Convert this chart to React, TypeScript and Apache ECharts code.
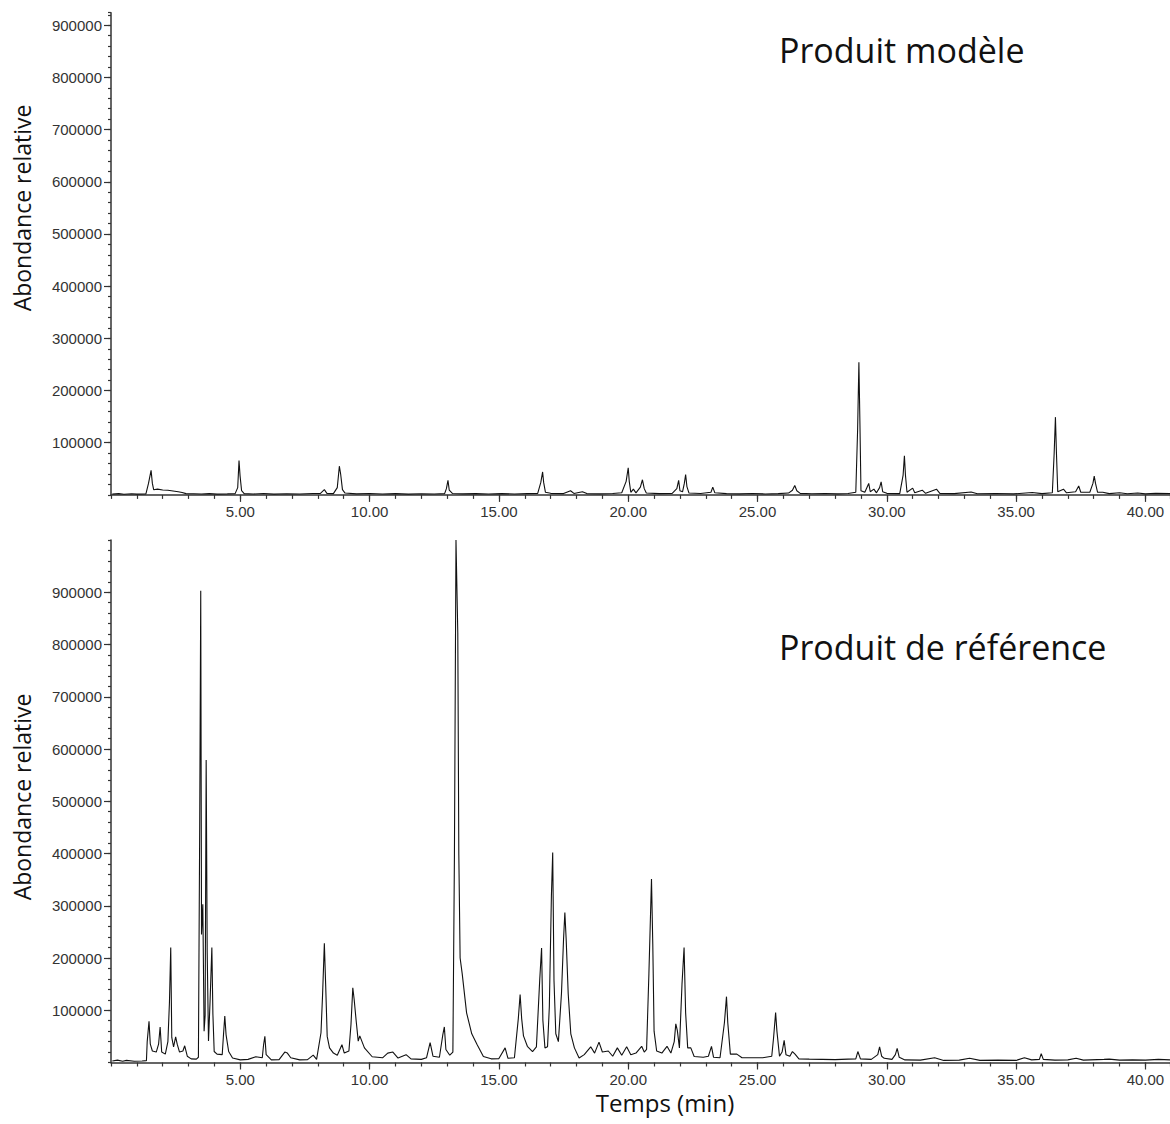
import React, { useEffect, useRef } from "react";
import * as echarts from "echarts";

// Time ticks (min) and abundance ticks
const timeMajorStep = 5;
const timeMinorStep = 1;
const timeMax = 40.95;
const abundanceMajorStep = 100000;
const abundanceMinorStep = 20000;
const topAbundanceMax = 924000;
const bottomAbundanceMax = 1000000;

const panelTitles = ["Produit modèle", "Produit de référence"];
const yAxisTitle = "Abondance relative";
const xAxisTitle = "Temps (min)";

// Chromatogram of the model product: [time (min), abundance]
const modelTrace: [number, number][] = [
  [0.05, 1500], [0.3, 2500], [0.5, 1200], [0.8, 2200], [1.0, 1500], [1.35, 1800],
  [1.45, 22000], [1.55, 47000], [1.6, 22000], [1.65, 10000], [1.8, 11000], [2.0, 9500],
  [2.2, 9000], [2.4, 7500], [2.6, 6000], [2.75, 4500], [2.9, 2500], [3.2, 2200],
  [3.5, 1800], [3.8, 2500], [4.1, 1500], [4.5, 2000], [4.8, 2500],
  [4.9, 14000], [4.95, 66000], [4.99, 37000], [5.05, 8000], [5.15, 2500], [5.5, 1800],
  [5.9, 2600], [6.3, 1500], [6.8, 2200], [7.3, 1800], [7.8, 2600], [8.1, 3000],
  [8.25, 10000], [8.35, 3000], [8.6, 2500], [8.75, 14000], [8.83, 55000], [8.88, 40000],
  [8.95, 10000], [9.05, 3500], [9.5, 2000], [10.0, 2600], [10.5, 1800], [11.0, 2400],
  [11.5, 1500], [12.0, 2200], [12.5, 1800], [12.9, 2500], [12.97, 12000], [13.03, 28000],
  [13.08, 9000], [13.2, 2800], [13.6, 2000], [14.1, 2500], [14.6, 1600], [15.1, 2400],
  [15.6, 1800], [16.1, 2500], [16.5, 3000], [16.62, 24000], [16.69, 44000], [16.73, 24000],
  [16.8, 5000], [17.0, 3000], [17.5, 2500], [17.77, 8000], [17.9, 2800], [18.23, 6000],
  [18.4, 2500], [18.9, 2000], [19.4, 2600], [19.75, 4000], [19.92, 26000], [20.0, 52000],
  [20.04, 26000], [20.1, 5000], [20.2, 11000], [20.3, 4000], [20.47, 15000], [20.55, 29000],
  [20.62, 12000], [20.7, 3500], [21.2, 2500], [21.7, 3000], [21.88, 12000], [21.95, 28000],
  [22.0, 8000], [22.1, 6000], [22.17, 22000], [22.22, 39000], [22.27, 16000], [22.35, 3500],
  [22.8, 2800], [23.2, 5000], [23.27, 15000], [23.35, 4000], [23.8, 2500], [24.3, 2000],
  [24.8, 2600], [25.3, 1800], [25.8, 2500], [26.2, 3500], [26.35, 9000], [26.44, 18000],
  [26.52, 8000], [26.65, 3000], [27.1, 2200], [27.6, 2800], [28.1, 2000], [28.5, 2800],
  [28.8, 5000], [28.87, 124000], [28.92, 254000], [28.96, 137000], [29.0, 8000],
  [29.15, 5000], [29.3, 22000], [29.36, 6000], [29.5, 11000], [29.6, 4000], [29.72, 14000],
  [29.78, 25000], [29.84, 6000], [30.0, 3000], [30.5, 2500], [30.63, 38000], [30.68, 75000],
  [30.72, 38000], [30.78, 5000], [31.0, 13000], [31.08, 4000], [31.37, 9000], [31.5, 3000],
  [31.92, 11000], [32.05, 3000], [32.6, 2500], [33.26, 5500], [33.5, 2200], [34.2, 2800],
  [34.9, 2000], [35.62, 4500], [36.0, 2500], [36.4, 4000], [36.47, 79000], [36.52, 149000],
  [36.56, 79000], [36.61, 6000], [36.83, 11000], [36.95, 4000], [37.3, 6000], [37.42, 17000],
  [37.5, 5000], [37.85, 5000], [37.97, 22000], [38.02, 36000], [38.07, 22000], [38.15, 5000],
  [38.35, 5000], [38.6, 2500], [39.0, 4000], [39.3, 2200], [39.7, 3500], [40.0, 2000],
  [40.4, 3000], [40.95, 2500],
];

// Chromatogram of the reference product: [time (min), abundance]
const referenceTrace: [number, number][] = [
  [0.05, 3000], [0.25, 4500], [0.45, 2500], [0.6, 4000], [0.9, 2500], [1.2, 3000],
  [1.37, 3500], [1.4, 40000], [1.47, 79000], [1.52, 35000], [1.6, 22000], [1.75, 20000],
  [1.84, 35000], [1.9, 68000], [1.96, 20000], [2.1, 16000], [2.2, 40000], [2.26, 115000],
  [2.31, 220000], [2.35, 48000], [2.42, 30000], [2.5, 49000], [2.56, 35000], [2.65, 20000],
  [2.78, 22000], [2.85, 32000], [2.95, 12000], [3.1, 7000], [3.3, 6500], [3.38, 10000],
  [3.43, 453000], [3.47, 903000], [3.5, 245000], [3.55, 303000], [3.6, 60000], [3.64, 90000],
  [3.68, 579000], [3.72, 210000], [3.77, 41000], [3.83, 116000], [3.9, 220000], [3.94, 93000],
  [3.99, 21000], [4.1, 16000], [4.3, 15000], [4.35, 53000], [4.4, 89000], [4.45, 53000],
  [4.55, 21000], [4.7, 8500], [5.0, 5000], [5.3, 6000], [5.6, 11000], [5.85, 9000],
  [5.9, 34000], [5.95, 50000], [6.0, 15000], [6.2, 5000], [6.5, 5500], [6.72, 20000],
  [6.82, 18000], [6.95, 9000], [7.3, 5000], [7.6, 5500], [7.82, 14000], [7.95, 6000],
  [8.12, 57000], [8.18, 128000], [8.25, 228000], [8.3, 150000], [8.36, 50000], [8.45, 28000],
  [8.6, 18000], [8.75, 14000], [8.93, 34000], [9.02, 18000], [9.2, 22000], [9.28, 73000],
  [9.35, 143000], [9.4, 122000], [9.48, 80000], [9.56, 41000], [9.62, 51000], [9.8, 28000],
  [10.1, 11000], [10.5, 9000], [10.7, 18000], [10.9, 20000], [11.1, 8500], [11.41, 15000],
  [11.6, 7000], [12.0, 6000], [12.2, 9000], [12.34, 38000], [12.45, 12000], [12.7, 10000],
  [12.83, 53000], [12.89, 68000], [12.95, 25000], [13.1, 14000], [13.22, 20000],
  [13.28, 397000], [13.34, 1000000], [13.41, 822000], [13.45, 397000], [13.5, 200000],
  [13.58, 170000], [13.75, 95000], [13.95, 55000], [14.15, 35000], [14.4, 11500],
  [14.7, 7000], [15.0, 7500], [15.24, 28000], [15.35, 8000], [15.6, 9000], [15.75, 84000],
  [15.82, 130000], [15.88, 84000], [15.95, 51000], [16.1, 31000], [16.3, 21000],
  [16.45, 30000], [16.58, 160000], [16.65, 219000], [16.7, 81000], [16.78, 28000],
  [16.88, 30000], [16.95, 107000], [17.03, 319000], [17.08, 402000], [17.13, 157000],
  [17.2, 55000], [17.3, 40000], [17.42, 133000], [17.5, 237000], [17.55, 287000],
  [17.6, 237000], [17.68, 131000], [17.78, 55000], [17.92, 28000], [18.1, 8500],
  [18.3, 15000], [18.55, 30000], [18.7, 18000], [18.87, 39000], [19.0, 20000],
  [19.23, 22000], [19.4, 12000], [19.58, 28000], [19.75, 14000], [19.94, 30000],
  [20.1, 15000], [20.3, 18000], [20.52, 31000], [20.62, 20000], [20.71, 25000],
  [20.8, 170000], [20.9, 351000], [20.95, 227000], [21.0, 60000], [21.1, 22000],
  [21.3, 18000], [21.5, 31000], [21.65, 18000], [21.78, 40000], [21.84, 74000],
  [21.9, 61000], [21.98, 28000], [22.08, 150000], [22.16, 220000], [22.22, 95000],
  [22.3, 28000], [22.42, 28000], [22.55, 11500], [22.9, 10000], [23.1, 12000],
  [23.22, 31000], [23.3, 10000], [23.55, 9000], [23.72, 76000], [23.8, 126000],
  [23.85, 76000], [23.95, 16000], [24.2, 16000], [24.4, 9000], [24.8, 9000], [25.2, 9000],
  [25.55, 12000], [25.62, 47000], [25.7, 95500], [25.75, 60000], [25.85, 12000],
  [25.95, 20000], [26.03, 42500], [26.1, 15000], [26.25, 12000], [26.35, 21000],
  [26.45, 16000], [26.6, 7000], [27.0, 6500], [27.5, 6000], [28.0, 5500], [28.5, 6500],
  [28.8, 7000], [28.88, 21000], [28.98, 7000], [29.4, 6000], [29.65, 15000], [29.72, 30000],
  [29.8, 12000], [29.9, 8000], [30.2, 6000], [30.33, 15000], [30.4, 27000], [30.48, 10000],
  [30.7, 5000], [31.3, 4500], [31.85, 9000], [32.2, 4000], [32.8, 4500], [33.2, 8000],
  [33.6, 4000], [34.3, 4500], [35.0, 4000], [35.32, 9000], [35.6, 5000], [35.9, 6000],
  [35.97, 17000], [36.05, 6000], [36.5, 4500], [37.0, 5000], [37.32, 8000], [37.6, 4500],
  [38.4, 6000], [38.6, 6500], [39.0, 4500], [39.5, 5000], [40.0, 4500], [40.5, 6000],
  [40.95, 5000],
];

const AXIS_COLOR = "#333";
const LABEL_FONT = "'Liberation Sans', Arial, sans-serif";
const TITLE_FONT = "'Open Sans', 'Noto Sans', sans-serif";

function majorX(gridIndex: number) {
  return {
    type: "value",
    gridIndex,
    position: "bottom",
    min: 0,
    max: timeMax,
    interval: timeMajorStep,
    axisLine: { show: true, onZero: false, lineStyle: { color: AXIS_COLOR, width: 1.5 } },
    axisTick: { show: true, length: 7, lineStyle: { color: AXIS_COLOR, width: 1.2 } },
    axisLabel: {
      show: true,
      margin: 9,
      fontSize: 15,
      fontFamily: LABEL_FONT,
      color: "#333",
      showMinLabel: false,
      showMaxLabel: false,
      formatter: (v: number) => (Math.abs(v % timeMajorStep) < 1e-9 && v > 0 ? v.toFixed(2) : ""),
    },
    splitLine: { show: false },
  };
}

function minorX(gridIndex: number) {
  return {
    type: "value",
    gridIndex,
    position: "bottom",
    offset: 0,
    min: 0,
    max: timeMax,
    interval: timeMinorStep,
    axisLine: { show: false, onZero: false },
    axisTick: { show: true, length: 4, lineStyle: { color: AXIS_COLOR, width: 1.2 } },
    axisLabel: { show: false },
    splitLine: { show: false },
  };
}

function majorY(gridIndex: number, max: number) {
  return {
    type: "value",
    gridIndex,
    position: "left",
    min: 0,
    max,
    interval: abundanceMajorStep,
    axisLine: { show: true, onZero: false, lineStyle: { color: AXIS_COLOR, width: 1.5 } },
    axisTick: { show: true, length: 7, lineStyle: { color: AXIS_COLOR, width: 1.2 } },
    axisLabel: {
      show: true,
      margin: 9,
      fontSize: 15,
      fontFamily: LABEL_FONT,
      color: "#333",
      showMinLabel: false,
      showMaxLabel: false,
      formatter: (v: number) => (v > 0 && v % abundanceMajorStep === 0 ? String(v) : ""),
    },
    splitLine: { show: false },
  };
}

function minorY(gridIndex: number, max: number) {
  return {
    type: "value",
    gridIndex,
    position: "left",
    offset: 0,
    min: 0,
    max,
    interval: abundanceMinorStep,
    axisLine: { show: false, onZero: false },
    axisTick: { show: true, length: 3, lineStyle: { color: AXIS_COLOR, width: 1.2 } },
    axisLabel: { show: false },
    splitLine: { show: false },
  };
}

export default function App() {
  const ref = useRef<HTMLDivElement>(null);

  useEffect(() => {
    if (!ref.current) return;
    const chart = echarts.init(ref.current, undefined, { renderer: "svg" });
    chart.setOption({
      animation: false,
      backgroundColor: "#ffffff",
      grid: [
        { left: 111, top: 12.7, right: -1, height: 482.2 },
        { left: 111, top: 540, right: -1, height: 522.5 },
      ],
      xAxis: [majorX(0), majorX(1), minorX(0), minorX(1)],
      yAxis: [
        majorY(0, topAbundanceMax),
        majorY(1, bottomAbundanceMax),
        minorY(0, topAbundanceMax),
        minorY(1, bottomAbundanceMax),
      ],
      series: [
        {
          type: "line",
          name: panelTitles[0],
          xAxisIndex: 0,
          yAxisIndex: 0,
          data: modelTrace,
          showSymbol: false,
          clip: true,
          lineStyle: { color: "#111", width: 1.1 },
        },
        {
          type: "line",
          name: panelTitles[1],
          xAxisIndex: 1,
          yAxisIndex: 1,
          data: referenceTrace,
          showSymbol: false,
          clip: true,
          lineStyle: { color: "#111", width: 1.1 },
        },
      ],
      graphic: [
        {
          type: "text",
          x: 779,
          y: 50,
          style: {
            text: panelTitles[0],
            font: `34px ${TITLE_FONT}`,
            fill: "#111",
            align: "left",
            verticalAlign: "middle",
          },
        },
        {
          type: "text",
          x: 779,
          y: 647,
          style: {
            text: panelTitles[1],
            font: `34px ${TITLE_FONT}`,
            fill: "#111",
            align: "left",
            verticalAlign: "middle",
          },
        },
        {
          type: "text",
          x: 22,
          y: 208,
          rotation: Math.PI / 2,
          style: {
            text: yAxisTitle,
            font: `23px ${TITLE_FONT}`,
            fill: "#111",
            align: "center",
            verticalAlign: "middle",
          },
        },
        {
          type: "text",
          x: 22,
          y: 797,
          rotation: Math.PI / 2,
          style: {
            text: yAxisTitle,
            font: `23px ${TITLE_FONT}`,
            fill: "#111",
            align: "center",
            verticalAlign: "middle",
          },
        },
        {
          type: "text",
          x: 665,
          y: 1102,
          style: {
            text: xAxisTitle,
            font: `24px ${TITLE_FONT}`,
            fill: "#111",
            align: "center",
            verticalAlign: "middle",
          },
        },
      ],
    });
    return () => chart.dispose();
  }, []);

  return (
    <div
      ref={ref}
      style={{ position: "absolute", left: 0, top: 0, width: 1170, height: 1124, background: "#fff" }}
    />
  );
}
